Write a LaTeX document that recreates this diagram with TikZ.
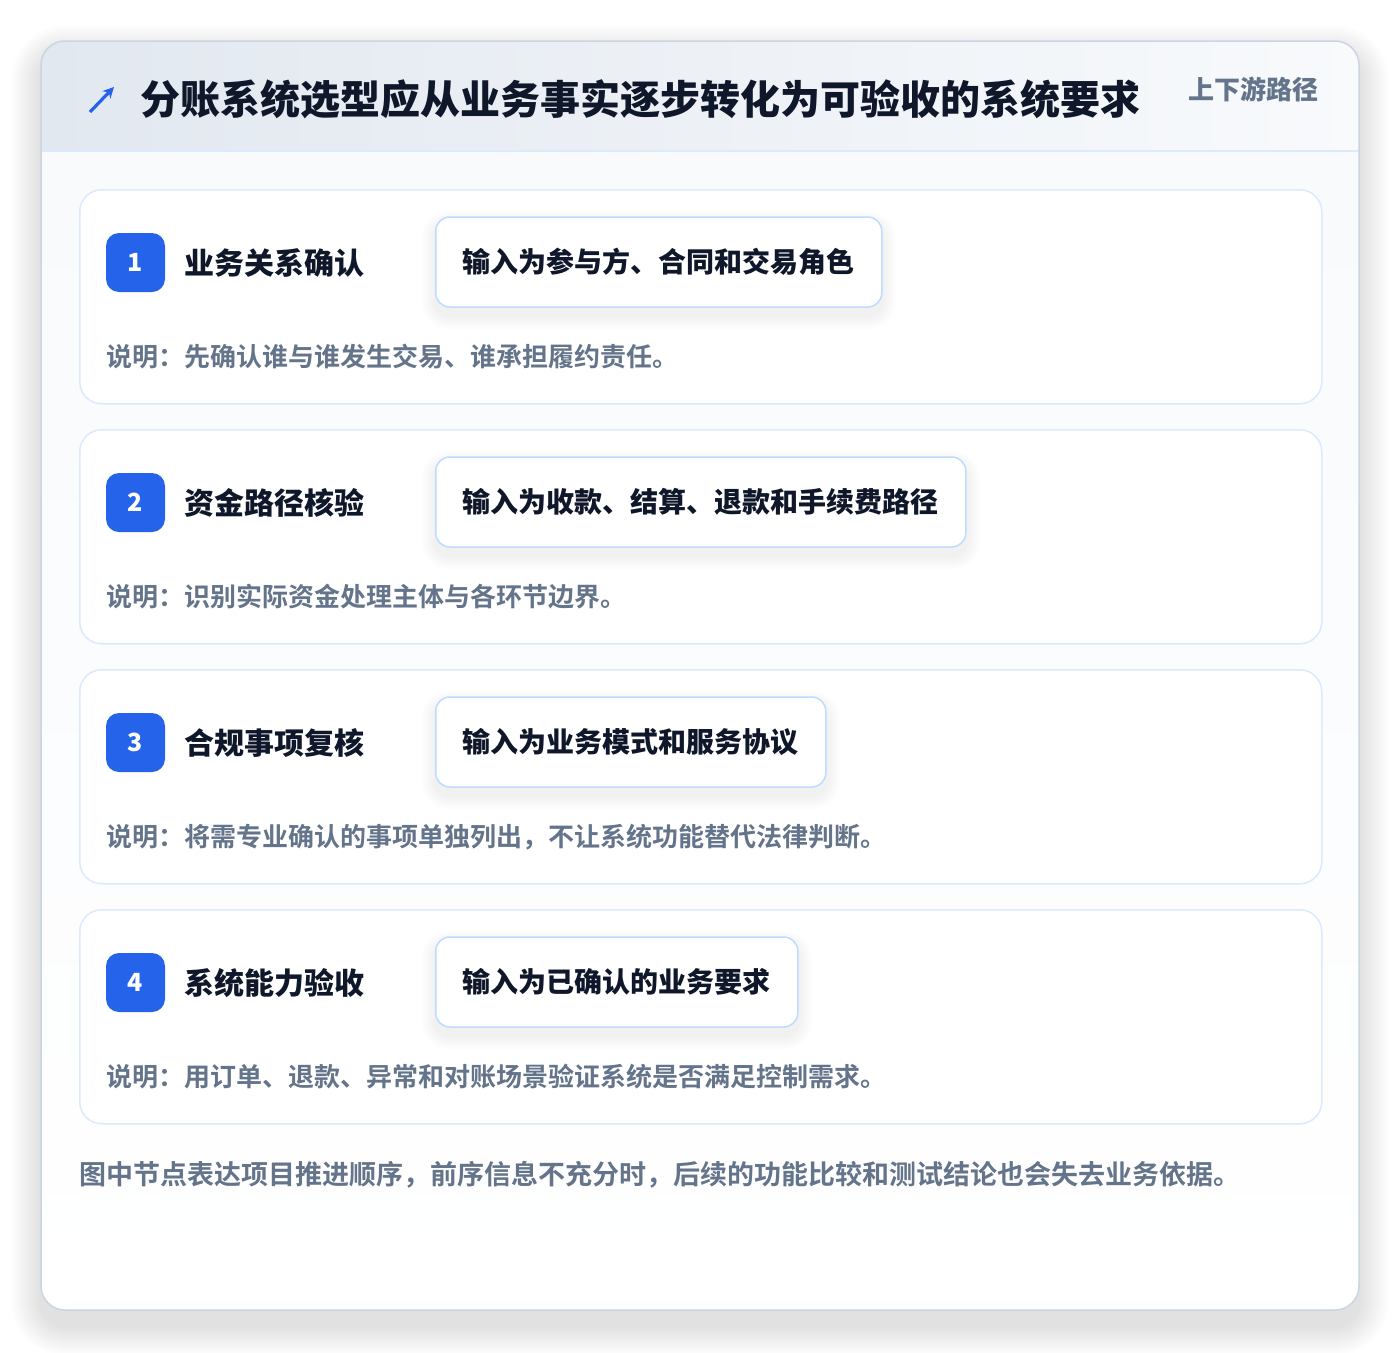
\documentclass[tikz,border=0pt]{standalone}
\usepackage{fontspec}
\setmainfont{Noto Sans CJK SC}[BoldFont={Noto Sans CJK SC Bold}]
\newfontfamily\heavy{Noto Sans CJK SC Black}
\usetikzlibrary{arrows.meta}
\definecolor{ink}{HTML}{0F172A}
\definecolor{muted}{HTML}{64748B}
\definecolor{accent}{HTML}{2563EB}
\definecolor{frame}{HTML}{DBEAFE}
\definecolor{inframe}{HTML}{BFDBFE}
\definecolor{cardline}{HTML}{CBD5E1}
\definecolor{headL}{HTML}{E2E8F0}
\definecolor{headR}{HTML}{F8FAFC}
\definecolor{cardbg}{HTML}{F8FAFC}
\pgfdeclarelayer{bg}
\pgfdeclarelayer{shadowlayer}
\pgfsetlayers{bg,shadowlayer,main}
\tikzset{
  stepframe/.style={draw=frame, line width=1.5pt, fill=white, rounded corners=22pt,
    minimum width=1242pt, minimum height=214pt, anchor=north west, inner sep=0pt},
  badge/.style={fill=accent, text=white, rounded corners=13pt, minimum size=59pt,
    inner sep=0pt, font=\heavy\fontsize{25}{30}\selectfont},
  steptitle/.style={anchor=west, inner sep=0pt, text=ink, font=\heavy\fontsize{30}{36}\selectfont},
  inputbox/.style={anchor=west, draw=inframe, line width=1.5pt, fill=white, rounded corners=14pt,
    minimum height=90pt, inner xsep=27pt, inner ysep=0pt, text=ink,
    font=\heavy\fontsize{28}{34}\selectfont},
  desctext/.style={anchor=west, inner sep=0pt, text=muted, font=\bfseries\fontsize{26}{31}\selectfont},
}
\begin{document}
\begin{tikzpicture}[x=1pt,y=-1pt]
\useasboundingbox (0,0) rectangle (1400,1352);
\begin{pgfonlayer}{bg}
\fill[white] (0,0) rectangle (1400,1352);
% outer card shadow
\foreach \i in {1,...,30}{
  \fill[black, opacity=0.0045, rounded corners={24+\i}] ({41-\i},{55-\i}) rectangle ({1359+\i},{1326+\i});
}
% card
\fill[cardbg, rounded corners=24pt] (41,41) rectangle (1359,1310);
\begin{scope}
  \clip[rounded corners=24pt] (41,41) rectangle (1359,1310);
  \shade[top color=cardbg, bottom color=white] (41,151) rectangle (1359,1310);
  \shade[left color=headL, right color=headR] (41,41) rectangle (1359,151);
\end{scope}
\draw[frame, line width=1.5pt] (41,151) -- (1359,151);
\draw[cardline, line width=1.5pt, rounded corners=24pt] (41,41) rectangle (1359,1310);
\end{pgfonlayer}

% header
\coordinate (arrS) at (90,112);
\coordinate (arrE) at (114,87);
\draw[accent, line width=3.2pt, -{Stealth[length=11pt,width=11pt]}] (arrS) -- (arrE);
\node[anchor=west, inner sep=0pt, text=ink, font=\heavy\fontsize{40}{48}\selectfont] (title) at (140,99) {分账系统选型应从业务事实逐步转化为可验收的系统要求};
\node[anchor=west, inner sep=0pt, text=muted, font=\heavy\fontsize{26}{31}\selectfont] (tag) at (1188,89) {上下游路径};

% steps
\foreach \n/\t/\inp/\d in {
  1/业务关系确认/输入为参与方、合同和交易角色/说明：先确认谁与谁发生交易、谁承担履约责任。,
  2/资金路径核验/输入为收款、结算、退款和手续费路径/说明：识别实际资金处理主体与各环节边界。,
  3/合规事项复核/输入为业务模式和服务协议/说明：将需专业确认的事项单独列出，不让系统功能替代法律判断。,
  4/系统能力验收/输入为已确认的业务要求/说明：用订单、退款、异常和对账场景验证系统是否满足控制需求。}{
  \pgfmathsetmacro{\y}{189+240*(\n-1)}
  \begin{pgfonlayer}{bg}
    \node[stepframe] (box\n) at (79,\y) {};
  \end{pgfonlayer}
  \node[badge] (badge\n) at (135.5,\y+73.5) {\n};
  \node[steptitle] (stitle\n) at (184,\y+74) {\t};
  \node[inputbox] (input\n) at (435,\y+73) {\inp};
  \begin{pgfonlayer}{shadowlayer}
    \foreach \i in {1,...,14}{
      \fill[black, opacity=0.005, rounded corners={14+\i}]
        ([shift={(-\i,{8-\i})}]input\n.north west) rectangle ([shift={(\i,{8+\i})}]input\n.south east);
    }
  \end{pgfonlayer}
  \node[desctext] (desc\n) at (106,\y+168) {\d};
}

% footer
\node[anchor=west, inner sep=0pt, text=muted, font=\bfseries\fontsize{27}{32}\selectfont] (footer) at (79,1175) {图中节点表达项目推进顺序，前序信息不充分时，后续的功能比较和测试结论也会失去业务依据。};
\end{tikzpicture}
\end{document}
